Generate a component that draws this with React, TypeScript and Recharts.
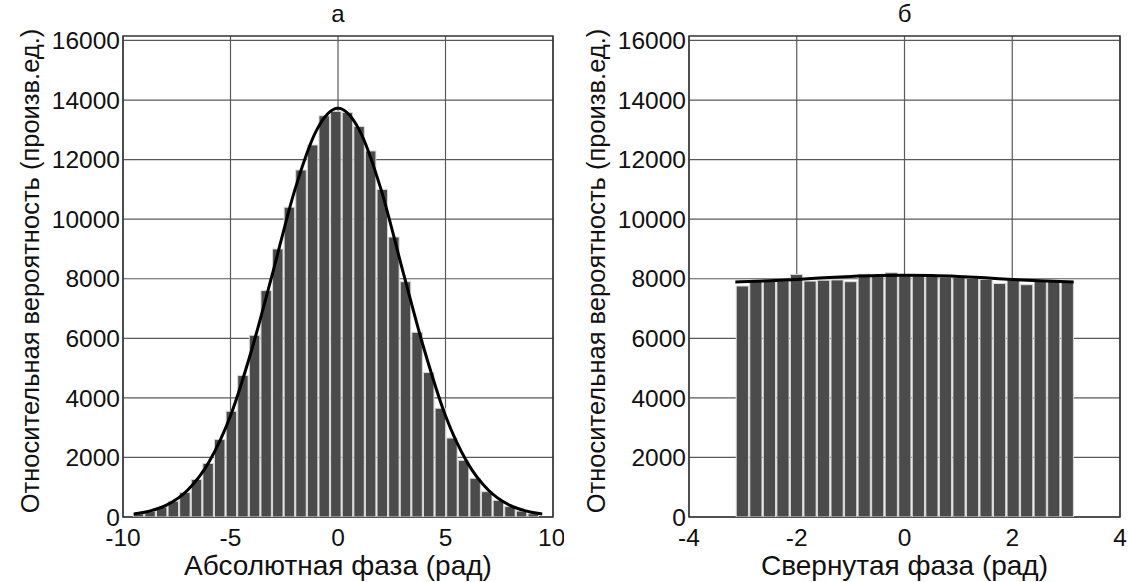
import React from "react";
import {
  ComposedChart,
  Bar,
  Line,
  XAxis,
  YAxis,
  CartesianGrid,
  ReferenceArea,
} from "recharts";

const FONT = '"Liberation Sans", Arial, sans-serif';

// shared vertical scale
const countTicks = [0, 2000, 4000, 6000, 8000, 10000, 12000, 14000, 16000];
const countMax = 16150;

// (а) absolute phase histogram
const absTicks = [-10, -5, 0, 5, 10];
const absBinWidth = 0.54;
const absFirstCenter = -9.3;
const absCounts = [
  110, 200, 330, 530, 820, 1260, 1800, 2600, 3550, 4750, 6100, 7600, 9000,
  10400, 11650, 12490, 13470, 13620, 13580, 13110, 12290, 11000, 9400, 7900,
  6200, 4850, 3650, 2650, 1900, 1300, 850, 560, 350, 200, 110,
];
const absFitX = [-9.5, -9, -8, -7, -6, -5, -4, -3, -2, -1, 0, 1, 2, 3, 4, 5, 6, 7, 8, 9, 9.5];
const absFitY = [
  100, 160, 390, 900, 1850, 3400, 5650, 8300, 11000, 12980, 13720, 12980,
  11000, 8300, 5650, 3400, 1850, 900, 390, 160, 100,
];

// (б) wrapped phase histogram
const wrapTicks = [-4, -2, 0, 2, 4];
const wrapBinWidth = (2 * Math.PI) / 25;
const wrapFirstCenter = -Math.PI + wrapBinWidth / 2;
const wrapCounts = [
  7754, 7930, 7930, 7930, 8140, 7920, 7950, 7960, 7900, 8150, 8090, 8200, 8100,
  8090, 8080, 8060, 8040, 8010, 7980, 7840, 7960, 7800, 7930, 7920, 7910,
];
const wrapFitX = [-3.14, -2.5, -2, -1.5, -1, -0.5, 0, 0.5, 1, 1.5, 2, 2.5, 3.14];
const wrapFitY = [7890, 7930, 7975, 8030, 8075, 8105, 8115, 8105, 8075, 8030, 7975, 7930, 7890];

const toBins = (first: number, width: number, counts: number[]) =>
  counts.map((count, i) => ({ x: first + i * width, count }));
const toFit = (xs: number[], ys: number[]) => xs.map((x, i) => ({ x, fit: ys[i] }));

const CHART_W = 564;
const CHART_H = 582;
const PLOT_TOP = 36;
const PLOT_BOTTOM = 517;
const AXIS_W = 123;

interface PanelProps {
  title: string;
  xTitle: string;
  left: number;
  plotRight: number;
  domain: [number, number];
  ticks: number[];
  bins: { x: number; count: number }[];
  fit: { x: number; fit: number }[];
  binWidth: number;
}

function Panel({ title, xTitle, left, plotRight, domain, ticks, bins, fit, binWidth }: PanelProps) {
  const plotW = plotRight - AXIS_W;
  const barPx = (binWidth * plotW) / (domain[1] - domain[0]);
  const midX = AXIS_W + plotW / 2;

  const yTitle = ({ viewBox }: any) => {
    const tx = viewBox.x + 30;
    const ty = 271;
    return (
      <text
        x={tx}
        y={ty}
        transform={`rotate(-90, ${tx}, ${ty})`}
        textAnchor="middle"
        dominantBaseline="central"
        fontFamily={FONT}
        fontSize={25.5}
        fill="#111"
      >
        Относительная вероятность (произв.ед.)
      </text>
    );
  };

  const xTitleContent = () => (
    <text x={midX} y={575} textAnchor="middle" fontFamily={FONT} fontSize={28} fill="#111">
      {xTitle}
    </text>
  );

  return (
    <div style={{ position: "absolute", left, top: 0 }}>
      <ComposedChart
        width={CHART_W}
        height={CHART_H}
        data={bins}
        margin={{ top: 0, right: CHART_W - plotRight, bottom: 0, left: 0 }}
      >
        <CartesianGrid stroke="#5a5a5a" strokeWidth={1.2} horizontalValues={countTicks} verticalValues={ticks} />
        <XAxis
          dataKey="x"
          type="number"
          domain={domain}
          ticks={ticks}
          allowDataOverflow
          height={CHART_H - PLOT_BOTTOM}
          tickSize={0}
          tickMargin={12}
          axisLine={false}
          tick={{ fill: "#111", fontSize: 24.5, fontFamily: FONT }}
          label={{ content: xTitleContent }}
        />
        <XAxis
          xAxisId="top"
          orientation="top"
          dataKey="x"
          type="number"
          domain={domain}
          allowDataOverflow
          height={PLOT_TOP}
          tick={false}
          tickLine={false}
          axisLine={false}
          label={{ value: title, position: "insideTop", offset: 5, fontSize: 24, fontFamily: FONT, fill: "#111" }}
        />
        <XAxis xAxisId="fit" dataKey="x" type="number" domain={domain} allowDataOverflow hide />
        <YAxis
          type="number"
          domain={[0, countMax]}
          ticks={countTicks}
          allowDataOverflow
          width={AXIS_W}
          tickSize={0}
          tickMargin={3}
          axisLine={false}
          tick={{ fill: "#111", fontSize: 24.5, fontFamily: FONT }}
          label={{ content: yTitle }}
        />
        <Bar
          dataKey="count"
          barSize={barPx}
          fill="#4b4b4b"
          stroke="#d8d8d8"
          strokeWidth={1}
          isAnimationActive={false}
        />
        <Line
          xAxisId="fit"
          data={fit}
          dataKey="fit"
          type="monotone"
          stroke="#000"
          strokeWidth={3}
          dot={false}
          isAnimationActive={false}
        />
        <ReferenceArea
          x1={domain[0]}
          x2={domain[1]}
          y1={0}
          y2={countMax}
          fill="none"
          stroke="#333"
          strokeWidth={1.5}
          ifOverflow="visible"
        />
      </ComposedChart>
    </div>
  );
}

export default function App() {
  return (
    <div style={{ position: "absolute", left: 0, top: 0, width: 1128, height: 582, background: "#fff" }}>
      <Panel
        title="а"
        xTitle="Абсолютная фаза (рад)"
        left={0}
        plotRight={553}
        domain={[-10, 10]}
        ticks={absTicks}
        bins={toBins(absFirstCenter, absBinWidth, absCounts)}
        fit={toFit(absFitX, absFitY)}
        binWidth={absBinWidth}
      />
      <Panel
        title="б"
        xTitle="Свернутая фаза (рад)"
        left={566}
        plotRight={554}
        domain={[-4, 4]}
        ticks={wrapTicks}
        bins={toBins(wrapFirstCenter, wrapBinWidth, wrapCounts)}
        fit={toFit(wrapFitX, wrapFitY)}
        binWidth={wrapBinWidth}
      />
    </div>
  );
}
